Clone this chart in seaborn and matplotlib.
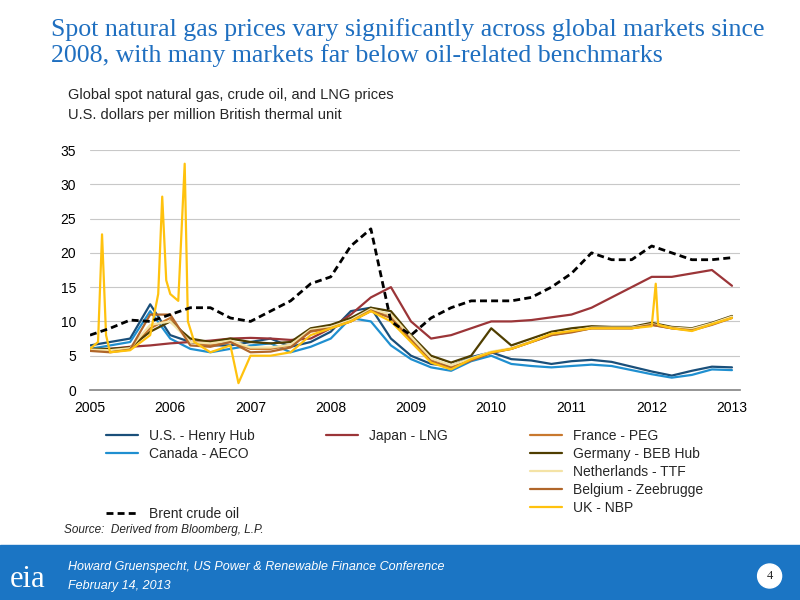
import matplotlib
matplotlib.use("Agg")
import matplotlib.pyplot as plt
import seaborn as sns
import pandas as pd
from matplotlib.patches import Rectangle, Ellipse

sns.set_theme(style="white")
plt.rcParams['font.family'] = ['Liberation Sans', 'DejaVu Sans']

# quarterly points, 2005.0 .. 2013.0
Q = [2005 + i * 0.25 for i in range(33)]

henry_hub = [6.5, 7.0, 7.5, 12.5, 8.0, 7.0, 6.5, 6.5, 7.0, 7.5, 6.3, 7.0,
             8.5, 11.5, 12.0, 7.5, 5.0, 3.8, 3.5, 4.8, 5.5, 4.5, 4.3, 3.8,
             4.2, 4.4, 4.1, 3.4, 2.7, 2.1, 2.8, 3.4, 3.3]
canada_aeco = [6.0, 6.5, 7.0, 11.5, 7.5, 6.0, 5.5, 6.0, 6.5, 6.8, 5.5, 6.3,
               7.5, 10.5, 10.0, 6.5, 4.5, 3.3, 2.8, 4.2, 5.0, 3.8, 3.5, 3.3,
               3.5, 3.7, 3.5, 2.9, 2.3, 1.8, 2.2, 3.0, 2.9]
japan_lng = [5.8, 6.0, 6.3, 6.5, 6.8, 7.0, 7.2, 7.5, 7.6, 7.5, 7.3, 7.5,
             9.0, 11.0, 13.5, 15.0, 10.0, 7.5, 8.0, 9.0, 10.0, 10.0, 10.2, 10.6,
             11.0, 12.0, 13.5, 15.0, 16.5, 16.5, 17.0, 17.5, 15.2]
france_peg = [5.8, 5.7, 6.0, 9.0, 10.5, 7.0, 6.5, 7.0, 6.0, 6.0, 6.5, 8.5,
              9.0, 10.0, 11.5, 11.0, 7.5, 4.5, 3.5, 4.5, 5.5, 6.0, 7.0, 8.0,
              8.5, 9.0, 9.0, 9.0, 9.5, 9.0, 8.8, 9.6, 10.6]
germany_beb = [6.0, 6.0, 6.2, 8.5, 10.0, 7.5, 7.0, 7.5, 7.0, 6.8, 7.0, 9.0,
               9.5, 10.5, 12.0, 11.5, 8.0, 5.0, 4.0, 5.0, 9.0, 6.5, 7.5, 8.5,
               9.0, 9.3, 9.2, 9.2, 9.8, 9.2, 9.0, 9.8, 10.8]
netherlands_ttf = [5.9, 5.8, 6.1, 9.5, 10.0, 7.0, 6.8, 7.2, 6.2, 6.2, 6.6, 8.8,
                   9.2, 10.2, 11.8, 11.0, 7.8, 4.6, 3.6, 4.6, 5.6, 6.1, 7.1, 8.2,
                   8.6, 9.1, 9.1, 9.1, 9.6, 9.1, 8.9, 9.7, 10.7]
belgium_zee = [5.7, 5.5, 5.9, 11.0, 11.0, 6.5, 6.3, 7.0, 5.5, 5.6, 6.2, 8.6,
               9.0, 10.0, 11.6, 10.5, 7.2, 4.2, 3.2, 4.3, 5.4, 6.0, 7.0, 8.0,
               8.4, 9.0, 9.0, 9.0, 9.5, 9.0, 8.7, 9.5, 10.5]

nbp_x = [2005.0, 2005.1, 2005.15, 2005.2, 2005.25, 2005.5, 2005.75, 2005.85, 2005.9,
         2005.95, 2006.0, 2006.1, 2006.18, 2006.22, 2006.3, 2006.5, 2006.75, 2006.85,
         2007.0, 2007.25, 2007.5, 2007.75, 2008.0, 2008.25, 2008.5, 2008.75,
         2009.0, 2009.25, 2009.5, 2009.75, 2010.0, 2010.25, 2010.5, 2010.75,
         2011.0, 2011.25, 2011.5, 2011.75, 2012.0, 2012.05, 2012.08, 2012.25,
         2012.5, 2012.75, 2013.0]
uk_nbp = [6.0, 7.0, 22.7, 8.0, 5.5, 5.8, 8.0, 14.0, 28.2, 16.0, 14.0, 13.0,
          33.0, 10.0, 7.0, 5.5, 6.5, 1.0, 5.0, 5.0, 5.5, 8.0, 9.0, 10.0,
          11.5, 10.0, 7.0, 4.0, 3.0, 4.5, 5.5, 6.0, 7.0, 8.2, 8.6, 9.0,
          9.0, 9.0, 9.3, 15.5, 9.5, 9.0, 8.6, 9.6, 10.5]
brent = [8.0, 9.0, 10.2, 10.0, 11.0, 12.0, 12.0, 10.5, 10.0, 11.5, 13.0, 15.5,
         16.5, 21.0, 23.5, 10.0, 8.0, 10.5, 12.0, 13.0, 13.0, 13.0, 13.5, 15.0,
         17.0, 20.0, 19.0, 19.0, 21.0, 20.0, 19.0, 19.0, 19.3]

series = [
    ("U.S. - Henry Hub", Q, henry_hub, "#1a4f7a", "-"),
    ("Canada - AECO", Q, canada_aeco, "#1f8fd0", "-"),
    ("Japan - LNG", Q, japan_lng, "#9b3538", "-"),
    ("France - PEG", Q, france_peg, "#c8782e", "-"),
    ("Germany - BEB Hub", Q, germany_beb, "#4f3e00", "-"),
    ("Netherlands - TTF", Q, netherlands_ttf, "#f4e3a6", "-"),
    ("Belgium - Zeebrugge", Q, belgium_zee, "#b0662a", "-"),
    ("UK - NBP", nbp_x, uk_nbp, "#ffc20e", "-"),
    ("Brent crude oil", Q, brent, "black", (0, (2.5, 1.5))),
]

fig = plt.figure(figsize=(8, 6), dpi=100)
fig.patch.set_facecolor("white")
ax = fig.add_axes([0.1125, 0.35, 0.8125, 0.40])

handles = {}
for name, xs, ys, color, ls in series:
    df = pd.DataFrame({"x": xs, "y": ys})
    sns.lineplot(data=df, x="x", y="y", ax=ax, color=color, linestyle=ls,
                 linewidth=2 if name.startswith("Brent") else 1.6, label=name, legend=False)
    handles[name] = ax.lines[-1]

ax.set_xlim(2005, 2013.1)
ax.set_ylim(0, 35)
ax.set_xticks(range(2005, 2014))
ax.set_yticks(range(0, 36, 5))
ax.tick_params(labelsize=10, colors="black", length=0)
ax.tick_params(axis="x", pad=8)
ax.tick_params(axis="y", pad=10)
ax.set_xlabel("")
ax.set_ylabel("")
ax.grid(axis="y", color="#c8c8c8", linewidth=0.8)
for s in ["top", "right", "left"]:
    ax.spines[s].set_visible(False)
ax.spines["bottom"].set_color("#888888")

def leg(names, x, y):
    return fig.legend([handles[n] for n in names], names, loc="upper left",
                      bbox_to_anchor=(x, y), frameon=False, fontsize=10,
                      handlelength=2.3, labelspacing=0.3, borderaxespad=0)

leg(["U.S. - Henry Hub", "Canada - AECO"], 0.125, 0.295)
leg(["Japan - LNG"], 0.40, 0.295)
leg(["France - PEG", "Germany - BEB Hub", "Netherlands - TTF",
     "Belgium - Zeebrugge", "UK - NBP"], 0.655, 0.295)
leg(["Brent crude oil"], 0.125, 0.165)

fig.text(0.064, 0.97, "Spot natural gas prices vary significantly across global markets since\n"
         "2008, with many markets far below oil-related benchmarks",
         fontsize=18.6, color="#1f6fc0", family="Liberation Serif", va="top", linespacing=1.15)
fig.text(0.085, 0.835, "Global spot natural gas, crude oil, and LNG prices", fontsize=10.5)
fig.text(0.085, 0.802, "U.S. dollars per million British thermal unit", fontsize=10.5)
fig.text(0.08, 0.112, "Source:  Derived from Bloomberg, L.P.", fontsize=8.5, style="italic")

fig.patches.append(Rectangle((0, 0), 1, 0.092, transform=fig.transFigure,
                             color="#1b75c4", zorder=0))
fig.text(0.012, 0.022, "eia", fontsize=22, color="white", family="Liberation Serif")
fig.text(0.085, 0.05, "Howard Gruenspecht, US Power & Renewable Finance Conference",
         fontsize=9, color="white", style="italic")
fig.text(0.085, 0.018, "February 14, 2013", fontsize=9, color="white", style="italic")
fig.patches.append(Ellipse((0.962, 0.04), 0.03, 0.04, transform=fig.transFigure,
                           color="white", zorder=1))
fig.text(0.962, 0.04, "4", fontsize=9, ha="center", va="center",
         family="Liberation Serif", zorder=2)

fig.savefig("out.png", dpi=100)
